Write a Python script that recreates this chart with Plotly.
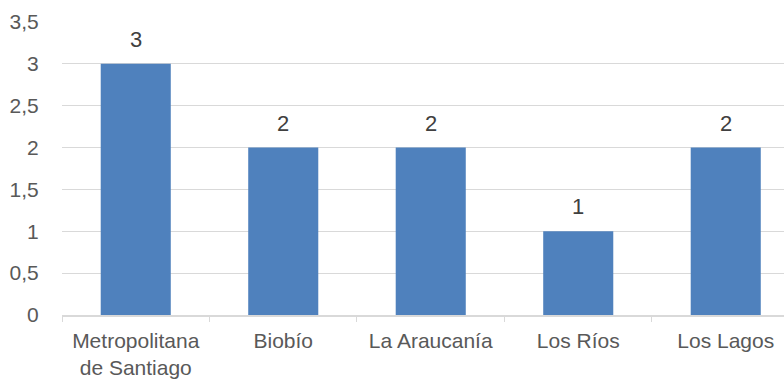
import plotly.graph_objects as go

regions = ["Metropolitana<br>de Santiago", "Biobío", "La Araucanía", "Los Ríos", "Los Lagos"]
counts = [3, 2, 2, 1, 2]

bar_color = "#4F81BD"
grid_color = "#D9D9D9"
text_color = "#595959"
font_family = "Liberation Sans, Arial, sans-serif"
font_size = 21

fig = go.Figure(
    go.Bar(
        x=regions,
        y=counts,
        marker=dict(color=bar_color, line=dict(width=0)),
        width=0.475,
        hoverinfo="skip",
    )
)

# value labels above each bar
for r, v in zip(regions, counts):
    fig.add_annotation(
        x=r, y=v, text=str(v), showarrow=False,
        yanchor="bottom", yshift=10,
        font=dict(family=font_family, size=22, color="#404040"),
    )

fig.update_layout(
    width=784,
    height=380,
    margin=dict(l=62, r=0, t=22, b=65),
    paper_bgcolor="white",
    plot_bgcolor="white",
    separators=",.",
    showlegend=False,
    font=dict(family=font_family, size=font_size, color=text_color),
)

fig.update_xaxes(
    range=[-0.5, 4.395],
    showgrid=False,
    showline=True,
    linecolor=grid_color,
    linewidth=1.5,
    ticks="outside",
    tickson="boundaries",
    ticklen=5,
    tickcolor=grid_color,
    ticklabelstandoff=6,
    tickfont=dict(family=font_family, size=font_size, color=text_color),
    fixedrange=True,
)

fig.update_yaxes(
    range=[0, 3.5],
    dtick=0.5,
    tick0=0,
    showgrid=True,
    gridcolor=grid_color,
    gridwidth=1.2,
    zeroline=False,
    showline=False,
    ticks="outside",
    ticklen=18,
    tickcolor="rgba(0,0,0,0)",
    tickfont=dict(family=font_family, size=font_size, color=text_color),
    fixedrange=True,
)

fig.write_html("out.html")
